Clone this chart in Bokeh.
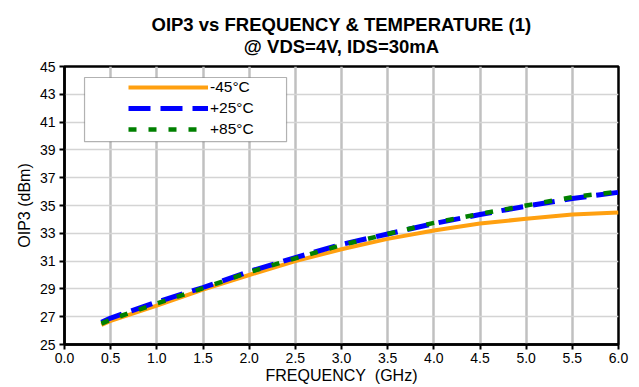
from bokeh.plotting import figure
from bokeh.models import Range1d, Title, Legend, LegendItem, BoxAnnotation, FixedTicker, CustomJSTickFormatter
from bokeh.embed import file_html
from bokeh.resources import INLINE

freq = [0.4, 0.5, 1.0, 1.5, 2.0, 2.5, 3.0, 3.5, 4.0, 4.5, 5.0, 5.5, 6.0]
oip3_m45 = [26.4, 26.7, 27.8, 28.95, 30.0, 31.0, 31.85, 32.6, 33.2, 33.7, 34.05, 34.35, 34.5]
oip3_p25 = [26.6, 26.9, 28.05, 29.1, 30.25, 31.25, 32.2, 32.95, 33.7, 34.35, 34.95, 35.5, 35.95]
oip3_p85 = [26.5, 26.8, 27.95, 29.05, 30.2, 31.2, 32.15, 32.95, 33.75, 34.4, 35.0, 35.6, 36.0]
series_labels = ["-45°C", "+25°C", "+85°C"]
x_ticks = [0.0, 0.5, 1.0, 1.5, 2.0, 2.5, 3.0, 3.5, 4.0, 4.5, 5.0, 5.5, 6.0]
y_ticks = [25, 27, 29, 31, 33, 35, 37, 39, 41, 43, 45]
title_text = "OIP3 vs FREQUENCY & TEMPERATURE (1)\n@ VDS=4V, IDS=30mA"

FONT = "Liberation Sans"

p = figure(width=639, height=387, output_backend="svg", toolbar_location=None,
           x_range=Range1d(0, 6), y_range=Range1d(25, 45),
           min_border_left=64, min_border_right=21, min_border_top=66, min_border_bottom=43)
p.background_fill_color = "white"
p.border_fill_color = "white"
p.outline_line_color = "black"
p.outline_line_width = 2.5

t = Title(text=title_text, align="center", text_font=FONT, text_align="center",
          text_font_size="18.5px", text_font_style="bold", text_color="black",
          text_line_height=1.05, standoff=19)
p.add_layout(t, "above")

p.xaxis.ticker = FixedTicker(ticks=x_ticks)
p.yaxis.ticker = FixedTicker(ticks=y_ticks)
p.xaxis.formatter = CustomJSTickFormatter(code="return tick.toFixed(1);")
for ax in (p.xaxis[0], p.yaxis[0]):
    ax.axis_line_color = "black"
    ax.axis_line_width = 2.5
    ax.major_tick_line_color = "black"
    ax.major_tick_line_width = 2
    ax.major_tick_out = 5
    ax.major_tick_in = 0
    ax.minor_tick_line_color = None
    ax.major_label_text_font = FONT
    ax.major_label_text_font_size = "14px"
    ax.major_label_text_color = "black"
    ax.axis_label_text_font = FONT
    ax.axis_label_text_font_size = "16px"
    ax.axis_label_text_font_style = "normal"
    ax.axis_label_text_color = "black"
p.xaxis.axis_label = "FREQUENCY\u00a0\u00a0(GHz)"
p.yaxis.axis_label = "OIP3 (dBm)"
p.xaxis.major_label_standoff = 3
p.xaxis.axis_label_standoff = 1
p.yaxis.major_label_standoff = 4
p.yaxis.axis_label_standoff = 4

p.xgrid.ticker = FixedTicker(ticks=x_ticks)
p.ygrid.ticker = FixedTicker(ticks=y_ticks)
p.xgrid.grid_line_color = "#c0c0c0"
p.xgrid.grid_line_width = 2.5
p.ygrid.grid_line_color = "#d4d4d4"
p.ygrid.grid_line_width = 1.5

r1 = p.line(freq, oip3_m45, line_color="#FFA010", line_width=4)
r2 = p.line(freq, oip3_p25, line_color="#0000FF", line_width=5, line_dash="22 10")
r3 = p.line(freq, oip3_p85, line_color="#008000", line_width=4.5, line_dash="8 12")

box = BoxAnnotation(left=0.217, right=2.405, top=44.21, bottom=39.59,
                    fill_color="white", fill_alpha=1, line_color="black", line_width=1.2)
p.add_layout(box)

legend = Legend(items=[LegendItem(label=series_labels[0], renderers=[r1]),
                       LegendItem(label=series_labels[1], renderers=[r2]),
                       LegendItem(label=series_labels[2], renderers=[r3])],
                location=(64, 205), orientation="vertical",
                padding=0, margin=0, spacing=1, glyph_width=80, glyph_height=20,
                label_height=20, label_standoff=2,
                label_text_font=FONT, label_text_font_size="15.5px", label_text_color="black",
                border_line_alpha=0, background_fill_alpha=0)
p.add_layout(legend)

open("out.html", "w").write(file_html(p, INLINE))
